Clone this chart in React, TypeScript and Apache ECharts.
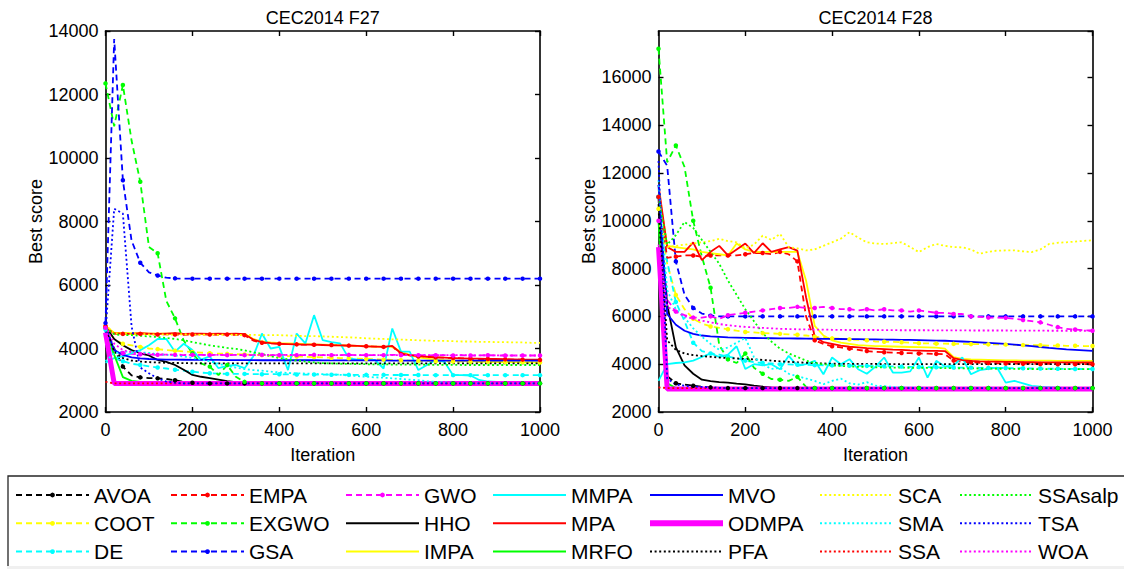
import React, { useEffect, useRef } from "react";
import * as echarts from "echarts";

const FONT = "'Liberation Sans', Arial, Helvetica, sans-serif";

const ITER = [
  0, 20, 40, 60, 80, 100, 120, 140, 160, 180,
  200, 220, 240, 260, 280, 300, 320, 340, 360, 380,
  400, 420, 440, 460, 480, 500, 520, 540, 560, 580,
  600, 620, 640, 660, 680, 700, 720, 740, 760, 780,
  800, 820, 840, 860, 880, 900, 920, 940, 960, 980,
  1000,
];

const X_TICKS = [0, 1000, 200];
const Y27_RANGE = [2000, 14000, 2000];
const Y28_RANGE = [2000, 17940, 2000];

const NAMES = [
  "AVOA", "COOT", "DE", "EMPA", "EXGWO", "GSA", "GWO",
  "HHO", "IMPA", "MMPA", "MPA", "MRFO", "MVO", "ODMPA",
  "PFA", "SCA", "SMA", "SSA", "SSAsalp", "TSA", "WOA",
];

// ---------------- CEC2014 F27 ----------------
const AVOA_F27 = [
  4650, 4000, 3430, 3150, 3090, 3070, 3060, 3040, 3000, 2950,
  2920, 2900, 2900, 2900, 2900, 2900, 2900, 2900, 2900, 2900,
  2900, 2900, 2900, 2900, 2900, 2900, 2900, 2900, 2900, 2900,
  2900, 2900, 2900, 2900, 2900, 2900, 2900, 2900, 2900, 2900,
  2900, 2900, 2900, 2900, 2900, 2900, 2900, 2900, 2900, 2900,
  2900,
];
const COOT_F27 = [
  4700, 4300, 4150, 4100, 4050, 4000, 3980, 3950, 3930, 3910,
  3890, 3870, 3850, 3840, 3830, 3820, 3810, 3800, 3790, 3780,
  3770, 3760, 3750, 3740, 3730, 3720, 3710, 3700, 3690, 3680,
  3670, 3660, 3650, 3640, 3630, 3620, 3610, 3600, 3600, 3590,
  3590, 3590, 3580, 3580, 3580, 3570, 3570, 3570, 3570, 3560,
  3560,
];
const DE_F27 = [
  4600, 3700, 3600, 3520, 3480, 3440, 3400, 3370, 3330, 3300,
  3270, 3240, 3220, 3210, 3200, 3200, 3200, 3195, 3190, 3190,
  3190, 3185, 3180, 3180, 3180, 3180, 3175, 3175, 3170, 3170,
  3170, 3170, 3170, 3165, 3165, 3165, 3165, 3160, 3160, 3160,
  3160, 3160, 3160, 3160, 3160, 3160, 3160, 3160, 3160, 3160,
  3160,
];
const EMPA_F27 = [
  4700, 4470, 4460, 4450, 4460, 4450, 4440, 4450, 4440, 4430,
  4440, 4450, 4440, 4430, 4440, 4430, 4420, 4250, 4180, 4160,
  4150, 4140, 4130, 4120, 4120, 4110, 4110, 4100, 4090, 4080,
  4070, 4060, 4050, 4060, 3830, 3780, 3750, 3730, 3720, 3710,
  3700, 3690, 3680, 3670, 3670, 3660, 3660, 3650, 3650, 3640,
  3640,
];
const EXGWO_F27 = [
  12350, 11000, 12300, 10550, 9250, 7200, 7000, 5500, 4950, 4250,
  3850, 3530, 3430, 3160, 3480, 3110, 2950, 2900, 2900, 2900,
  2900, 2900, 2900, 2900, 2900, 2900, 2900, 2900, 2900, 2900,
  2900, 2900, 2900, 2900, 2900, 2900, 2900, 2900, 2900, 2900,
  2900, 2900, 2900, 2900, 2900, 2900, 2900, 2900, 2900, 2900,
  2900,
];
const GSA_F27 = [
  4800, 13750, 9300, 7400, 6700, 6400, 6300, 6230, 6210, 6200,
  6200, 6200, 6200, 6200, 6200, 6200, 6200, 6200, 6200, 6200,
  6200, 6200, 6200, 6200, 6200, 6200, 6200, 6200, 6200, 6200,
  6200, 6200, 6200, 6200, 6200, 6200, 6200, 6200, 6200, 6200,
  6200, 6200, 6200, 6200, 6200, 6200, 6200, 6200, 6200, 6200,
  6200,
];
const GWO_F27 = [
  4650, 3950, 3860, 3830, 3820, 3810, 3800, 3810, 3800, 3790,
  3800, 3800, 3790, 3800, 3790, 3800, 3790, 3790, 3800, 3790,
  3790, 3800, 3790, 3790, 3800, 3790, 3790, 3790, 3800, 3790,
  3790, 3790, 3790, 3800, 3790, 3790, 3790, 3780, 3790, 3790,
  3780, 3790, 3780, 3780, 3790, 3780, 3780, 3780, 3780, 3780,
  3780,
];
const HHO_F27 = [
  4700, 4300, 4100, 3950, 3850, 3780, 3640, 3580, 3480, 3330,
  3170, 3110, 3070, 3020, 2970, 2940, 2920, 2900, 2900, 2900,
  2900, 2900, 2900, 2900, 2900, 2900, 2900, 2900, 2900, 2900,
  2900, 2900, 2900, 2900, 2900, 2900, 2900, 2900, 2900, 2900,
  2900, 2900, 2900, 2900, 2900, 2900, 2900, 2900, 2900, 2900,
  2900,
];
const IMPA_F27 = [
  4700, 4500, 4490, 4480, 4480, 4470, 4470, 4470, 4470, 4460,
  4460, 4460, 4460, 4460, 4460, 4460, 4460, 4300, 4220, 4190,
  4170, 4160, 4150, 4140, 4130, 4120, 4110, 4100, 4090, 4080,
  4070, 4060, 4060, 4050, 3900, 3800, 3720, 3680, 3650, 3630,
  3620, 3610, 3600, 3590, 3580, 3580, 3570, 3570, 3560, 3560,
  3560,
];
const MMPA_F27 = [
  3550, 3700, 3750, 3850, 3950, 4100, 4300, 4300, 3900, 4150,
  3950, 3650, 3750, 3380, 3450, 3480, 3380, 3750, 4470, 4000,
  4050, 3320, 4470, 4160, 5050, 4260, 4200, 4160, 3690, 3650,
  3640, 3640, 3370, 4630, 3900, 3900, 3320, 3480, 3640, 3580,
  3160, 3160, 3150, 3010, 2960, 2950, 2940, 2930, 2930, 2930,
  2930,
];
const MPA_F27 = [
  4650, 4480, 4470, 4460, 4480, 4470, 4460, 4470, 4480, 4460,
  4470, 4470, 4460, 4470, 4460, 4470, 4450, 4280, 4200, 4170,
  4150, 4140, 4130, 4120, 4120, 4110, 4100, 4100, 4090, 4080,
  4070, 4060, 4050, 4080, 3850, 3790, 3760, 3740, 3720, 3710,
  3700, 3690, 3680, 3680, 3670, 3670, 3660, 3660, 3650, 3650,
  3650,
];
const MRFO_F27 = [
  4600, 3800, 3100, 2980, 2950, 2920, 2900, 2900, 2900, 2900,
  2900, 2900, 2900, 2900, 2900, 2900, 2900, 2900, 2900, 2900,
  2900, 2900, 2900, 2900, 2900, 2900, 2900, 2900, 2900, 2900,
  2900, 2900, 2900, 2900, 2900, 2900, 2900, 2900, 2900, 2900,
  2900, 2900, 2900, 2900, 2900, 2900, 2900, 2900, 2900, 2900,
  2900,
];
const MVO_F27 = [
  4700, 3950, 3800, 3720, 3690, 3670, 3660, 3650, 3650, 3645,
  3640, 3640, 3640, 3640, 3635, 3635, 3635, 3635, 3630, 3630,
  3630, 3630, 3630, 3630, 3630, 3625, 3625, 3625, 3625, 3625,
  3625, 3625, 3625, 3620, 3620, 3620, 3620, 3620, 3620, 3620,
  3620, 3620, 3620, 3620, 3620, 3620, 3620, 3620, 3620, 3620,
  3620,
];
const ODMPA_F27 = [
  4500, 2900, 2900, 2900, 2900, 2900, 2900, 2900, 2900, 2900,
  2900, 2900, 2900, 2900, 2900, 2900, 2900, 2900, 2900, 2900,
  2900, 2900, 2900, 2900, 2900, 2900, 2900, 2900, 2900, 2900,
  2900, 2900, 2900, 2900, 2900, 2900, 2900, 2900, 2900, 2900,
  2900, 2900, 2900, 2900, 2900, 2900, 2900, 2900, 2900, 2900,
  2900,
];
const PFA_F27 = [
  4700, 3900, 3700, 3620, 3590, 3570, 3560, 3550, 3545, 3540,
  3535, 3530, 3530, 3530, 3530, 3530, 3530, 3530, 3530, 3530,
  3530, 3530, 3530, 3530, 3530, 3530, 3530, 3530, 3530, 3530,
  3530, 3530, 3530, 3530, 3530, 3530, 3530, 3530, 3530, 3530,
  3530, 3530, 3530, 3530, 3530, 3530, 3530, 3530, 3530, 3530,
  3530,
];
const SCA_F27 = [
  4750, 4480, 4460, 4450, 4460, 4440, 4450, 4440, 4440, 4450,
  4440, 4430, 4440, 4430, 4440, 4430, 4420, 4430, 4420, 4420,
  4420, 4410, 4400, 4390, 4390, 4380, 4370, 4360, 4350, 4340,
  4320, 4310, 4300, 4290, 4280, 4270, 4260, 4250, 4240, 4240,
  4230, 4220, 4220, 4210, 4210, 4200, 4200, 4190, 4190, 4180,
  4180,
];
const SMA_F27 = [
  3600, 3850, 3900, 3900, 3880, 3860, 3820, 3800, 3780, 3750,
  3700, 3650, 3600, 3520, 3450, 3400, 3350, 3320, 3300, 3270,
  3250, 3230, 3220, 3210, 3200, 3190, 3180, 3170, 3150, 3130,
  3110, 3090, 3080, 3060, 3040, 3020, 3000, 2970, 2950, 2930,
  2920, 2910, 2910, 2900, 2900, 2900, 2900, 2900, 2900, 2900,
  2900,
];
const SSA_F27 = [
  2950, 2900, 2900, 2900, 2900, 2900, 2900, 2900, 2900, 2900,
  2900, 2900, 2900, 2900, 2900, 2900, 2900, 2900, 2900, 2900,
  2900, 2900, 2900, 2900, 2900, 2900, 2900, 2900, 2900, 2900,
  2900, 2900, 2900, 2900, 2900, 2900, 2900, 2900, 2900, 2900,
  2900, 2900, 2900, 2900, 2900, 2900, 2900, 2900, 2900, 2900,
  2900,
];
const SSASALP_F27 = [
  4650, 4450, 4420, 4420, 4400, 4380, 4360, 4330, 4300, 4260,
  4200, 4150, 4100, 4060, 4020, 3990, 3940, 3880, 3830, 3760,
  3700, 3660, 3620, 3590, 3560, 3540, 3530, 3520, 3515, 3510,
  3505, 3500, 3500, 3495, 3495, 3490, 3490, 3490, 3485, 3485,
  3485, 3480, 3480, 3480, 3480, 3480, 3480, 3480, 3480, 3480,
  3480,
];
const TSA_F27 = [
  4500, 8400, 8250, 4700, 3400, 3220, 3060, 2960, 2920, 2900,
  2900, 2900, 2900, 2900, 2900, 2900, 2900, 2900, 2900, 2900,
  2900, 2900, 2900, 2900, 2900, 2900, 2900, 2900, 2900, 2900,
  2900, 2900, 2900, 2900, 2900, 2900, 2900, 2900, 2900, 2900,
  2900, 2900, 2900, 2900, 2900, 2900, 2900, 2900, 2900, 2900,
  2900,
];
const WOA_F27 = [
  4700, 4150, 3950, 3880, 3850, 3830, 3820, 3810, 3810, 3800,
  3800, 3800, 3800, 3800, 3800, 3800, 3800, 3800, 3800, 3800,
  3800, 3795, 3795, 3795, 3795, 3795, 3795, 3790, 3790, 3790,
  3790, 3790, 3790, 3790, 3790, 3790, 3790, 3790, 3790, 3790,
  3790, 3790, 3785, 3785, 3785, 3785, 3780, 3780, 3780, 3780,
  3780,
];

// ---------------- CEC2014 F28 ----------------
const AVOA_F28 = [
  11000, 3500, 3200, 3150, 3100, 3060, 3030, 3010, 3000, 3000,
  3000, 3000, 3000, 3000, 3000, 3000, 3000, 3000, 3000, 3000,
  3000, 3000, 3000, 3000, 3000, 3000, 3000, 3000, 3000, 3000,
  3000, 3000, 3000, 3000, 3000, 3000, 3000, 3000, 3000, 3000,
  3000, 3000, 3000, 3000, 3000, 3000, 3000, 3000, 3000, 3000,
  3000,
];
const COOT_F28 = [
  10500, 8200, 6900, 6300, 5900, 5700, 5580, 5520, 5460, 5400,
  5350, 5330, 5300, 5290, 5270, 5250, 5230, 5200, 5150, 5120,
  5080, 5060, 5040, 5020, 5000, 4950, 4940, 4930, 4920, 4900,
  4880, 4870, 4860, 4860, 4850, 4850, 4840, 4840, 4830, 4830,
  4820, 4810, 4800, 4800, 4790, 4780, 4780, 4770, 4770, 4760,
  4760,
];
const DE_F28 = [
  11000, 8300, 6600, 5800, 4900, 4550, 4450, 4400, 4320, 4250,
  4150, 4080, 4050, 4030, 4000, 3990, 3980, 3970, 3960, 3955,
  3950, 3945, 3940, 3935, 3930, 3920, 3915, 3910, 3900, 3890,
  3880, 3875, 3870, 3865, 3860, 3860, 3855, 3850, 3845, 3840,
  3840, 3830, 3830, 3820, 3820, 3810, 3810, 3805, 3800, 3800,
  3800,
];
const EMPA_F28 = [
  11000, 8450, 8500, 8550, 8550, 8500, 8550, 8550, 8550, 8550,
  8600, 8650, 8650, 8600, 8700, 8600, 8300, 6000, 5000, 4850,
  4750, 4700, 4650, 4600, 4550, 4520, 4500, 4480, 4470, 4460,
  4450, 4440, 4430, 4420, 4150, 4100, 4080, 4060, 4050, 4040,
  4030, 4030, 4020, 4020, 4010, 4010, 4000, 4000, 4000, 4000,
  4000,
];
const EXGWO_F28 = [
  17200, 12450, 13150, 12250, 10000, 8500, 7200, 4800, 4200, 4050,
  4450, 3850, 3600, 3380, 3350, 3300, 3470, 3050, 3000, 3000,
  3000, 3000, 3000, 3000, 3000, 3000, 3000, 3000, 3000, 3000,
  3000, 3000, 3000, 3000, 3000, 3000, 3000, 3000, 3000, 3000,
  3000, 3000, 3000, 3000, 3000, 3000, 3000, 3000, 3000, 3000,
  3000,
];
const GSA_F28 = [
  12900, 12300, 8300, 6900, 6350, 6120, 6030, 6000, 6000, 6000,
  6000, 6000, 6000, 6000, 6000, 6000, 6000, 6000, 6000, 6000,
  6000, 6000, 6000, 6000, 6000, 6000, 6000, 6000, 6000, 6000,
  6000, 6000, 6000, 6000, 6000, 6000, 6000, 6000, 6000, 6000,
  6000, 6000, 6000, 6000, 6000, 6000, 6000, 6000, 6000, 6000,
  6000,
];
const GWO_F28 = [
  10000, 6700, 6200, 6050, 5950, 5950, 6000, 5900, 6050, 6100,
  6150, 6200, 6250, 6300, 6350, 6350, 6400, 6350, 6350, 6400,
  6350, 6300, 6300, 6250, 6300, 6250, 6300, 6250, 6250, 6200,
  6250, 6200, 6150, 6150, 6100, 6100, 6000, 5980, 5950, 5950,
  5940, 5900, 5850, 5800, 5750, 5650, 5550, 5480, 5450, 5420,
  5400,
];
const HHO_F28 = [
  10700, 6500, 4700, 3950, 3600, 3350, 3290, 3250, 3230, 3190,
  3160, 3100, 3060, 3030, 3010, 3000, 3000, 3000, 3000, 3000,
  3000, 3000, 3000, 3000, 3000, 3000, 3000, 3000, 3000, 3000,
  3000, 3000, 3000, 3000, 3000, 3000, 3000, 3000, 3000, 3000,
  3000, 3000, 3000, 3000, 3000, 3000, 3000, 3000, 3000, 3000,
  3000,
];
const IMPA_F28 = [
  11300, 8950, 8900, 8850, 8800, 8700, 8650, 8600, 8550, 9050,
  8800, 8700, 8700, 8700, 8700, 8700, 8700, 7500, 5600, 5200,
  5000, 4900, 4850, 4800, 4780, 4760, 4750, 4740, 4730, 4720,
  4710, 4700, 4690, 4650, 4300, 4220, 4200, 4190, 4180, 4170,
  4160, 4160, 4150, 4150, 4150, 4150, 4140, 4140, 4140, 4140,
  4140,
];
const MMPA_F28 = [
  3300, 4000, 4050, 4080, 4150, 4300, 4450, 4300, 4400, 4750,
  3800, 4000, 3950, 4000, 3790, 4350, 3930, 4000, 4140, 3580,
  4280, 4000, 4210, 3790, 3600, 3900, 4280, 3650, 3650, 3700,
  4280, 3440, 4140, 3900, 3950, 4280, 3580, 3750, 3800, 3860,
  3230, 3300, 3200, 3090, 3060, 3040, 3020, 3000, 3000, 3000,
  3000,
];
const MPA_F28 = [
  11500, 8900, 8700, 8700, 9100, 8350, 8700, 8950, 8550, 8800,
  9050, 8650, 9060, 8700, 8800, 8900, 8750, 6800, 5150, 4920,
  4850, 4780, 4730, 4700, 4670, 4650, 4630, 4610, 4600, 4580,
  4570, 4560, 4560, 4550, 4250, 4170, 4140, 4120, 4110, 4105,
  4100, 4095, 4090, 4085, 4080, 4080, 4075, 4075, 4070, 4070,
  4070,
];
const MRFO_F28 = [
  10000, 3200, 3000, 3000, 3000, 3000, 3000, 3000, 3000, 3000,
  3000, 3000, 3000, 3000, 3000, 3000, 3000, 3000, 3000, 3000,
  3000, 3000, 3000, 3000, 3000, 3000, 3000, 3000, 3000, 3000,
  3000, 3000, 3000, 3000, 3000, 3000, 3000, 3000, 3000, 3000,
  3000, 3000, 3000, 3000, 3000, 3000, 3000, 3000, 3000, 3000,
  3000,
];
const MVO_F28 = [
  11500, 6100, 5650, 5400, 5270, 5200, 5160, 5140, 5120, 5110,
  5100, 5095, 5090, 5085, 5080, 5080, 5075, 5070, 5065, 5060,
  5060, 5055, 5050, 5045, 5040, 5040, 5030, 5025, 5020, 5015,
  5010, 5000, 4990, 4980, 4965, 4950, 4930, 4910, 4890, 4870,
  4850, 4820, 4790, 4760, 4720, 4680, 4650, 4620, 4600, 4580,
  4560,
];
const ODMPA_F28 = [
  8900, 2960, 2960, 2960, 2960, 2960, 2960, 2960, 2960, 2960,
  2960, 2960, 2960, 2960, 2960, 2960, 2960, 2960, 2960, 2960,
  2960, 2960, 2960, 2960, 2960, 2960, 2960, 2960, 2960, 2960,
  2960, 2960, 2960, 2960, 2960, 2960, 2960, 2960, 2960, 2960,
  2960, 2960, 2960, 2960, 2960, 2960, 2960, 2960, 2960, 2960,
  2960,
];
const PFA_F28 = [
  10500, 5000, 4600, 4450, 4380, 4340, 4310, 4280, 4260, 4240,
  4220, 4200, 4180, 4150, 4120, 4100, 4080, 4060, 4040, 4030,
  4020, 4015, 4010, 4010, 4010, 4010, 4005, 4005, 4005, 4005,
  4000, 4000, 4000, 4000, 4000, 4000, 4000, 4000, 4000, 4000,
  4000, 4000, 4000, 4000, 4000, 4000, 4000, 4000, 4000, 4000,
  4000,
];
const SCA_F28 = [
  10000, 8900, 8950, 9000, 9050, 9100, 9150, 9250, 9150, 9100,
  8850, 9000, 9380, 9200, 9450, 8900, 8850, 8760, 8800, 8950,
  9100, 9250, 9520, 9300, 9100, 9050, 9030, 9070, 9100, 8900,
  8690, 8900, 9030, 8950, 8900, 8890, 8800, 8620, 8700, 8750,
  8760, 8760, 8720, 8690, 8800, 9030, 9080, 9100, 9130, 9160,
  9180,
];
const SMA_F28 = [
  11700, 7100, 6300, 5950, 5500, 5150, 4850, 4600, 4700, 4900,
  5100, 4300, 4000, 3800, 3850, 3600, 3500, 3400, 3300, 3160,
  3300, 3400, 3200, 3150, 3250, 3100, 3080, 3050, 3030, 3020,
  3010, 3000, 3000, 3000, 3000, 3000, 3000, 3000, 3000, 3000,
  3000, 3000, 3000, 3000, 3000, 3000, 3000, 3000, 3000, 3000,
  3000,
];
const SSA_F28 = [
  3030, 3000, 3000, 3000, 3000, 3000, 3000, 3000, 3000, 3000,
  3000, 3000, 3000, 3000, 3000, 3000, 3000, 3000, 3000, 3000,
  3000, 3000, 3000, 3000, 3000, 3000, 3000, 3000, 3000, 3000,
  3000, 3000, 3000, 3000, 3000, 3000, 3000, 3000, 3000, 3000,
  3000, 3000, 3000, 3000, 3000, 3000, 3000, 3000, 3000, 3000,
  3000,
];
const SSASALP_F28 = [
  11000, 9000, 9400, 9950, 9700, 9200, 8700, 8200, 7500, 6900,
  6300, 5800, 5300, 4950, 4650, 4450, 4300, 4150, 4050, 4000,
  3950, 3930, 3900, 3890, 3880, 3870, 3865, 3860, 3855, 3850,
  3850, 3845, 3840, 3835, 3830, 3830, 3825, 3820, 3815, 3810,
  3810, 3805, 3800, 3800, 3795, 3795, 3790, 3790, 3790, 3790,
  3790,
];
const TSA_F28 = [
  12500, 3400, 3150, 3100, 3070, 3050, 3030, 3010, 3000, 3000,
  3000, 3000, 3000, 3000, 3000, 3000, 3000, 3000, 3000, 3000,
  3000, 3000, 3000, 3000, 3000, 3000, 3000, 3000, 3000, 3000,
  3000, 3000, 3000, 3000, 3000, 3000, 3000, 3000, 3000, 3000,
  3000, 3000, 3000, 3000, 3000, 3000, 3000, 3000, 3000, 3000,
  3000,
];
const WOA_F28 = [
  9000, 6400, 6200, 6000, 5900, 5820, 5750, 5680, 5630, 5590,
  5560, 5540, 5520, 5500, 5480, 5470, 5460, 5455, 5450, 5445,
  5440, 5435, 5430, 5430, 5430, 5430, 5425, 5425, 5420, 5420,
  5420, 5420, 5415, 5415, 5415, 5415, 5410, 5410, 5410, 5410,
  5410, 5405, 5405, 5405, 5405, 5400, 5400, 5400, 5400, 5400,
  5400,
];

const F27 = [
  AVOA_F27, COOT_F27, DE_F27, EMPA_F27, EXGWO_F27, GSA_F27, GWO_F27,
  HHO_F27, IMPA_F27, MMPA_F27, MPA_F27, MRFO_F27, MVO_F27, ODMPA_F27,
  PFA_F27, SCA_F27, SMA_F27, SSA_F27, SSASALP_F27, TSA_F27, WOA_F27,
];
const F28 = [
  AVOA_F28, COOT_F28, DE_F28, EMPA_F28, EXGWO_F28, GSA_F28, GWO_F28,
  HHO_F28, IMPA_F28, MMPA_F28, MPA_F28, MRFO_F28, MVO_F28, ODMPA_F28,
  PFA_F28, SCA_F28, SMA_F28, SSA_F28, SSASALP_F28, TSA_F28, WOA_F28,
];

// styles (not data)
const PALETTE = ["#000000", "#ffff00", "#00ffff", "#ff0000", "#00ff00", "#0000ff", "#ff00ff"];
const KIND = ["dash", "solid", "dot"];
const LEGEND_COL_X = [15, 170, 345, 492, 647, 819, 959];

function styleOf(k: number) {
  const kind = KIND[Math.floor(k / 7)];
  const color = PALETTE[k % 7];
  const width = NAMES[k] === "ODMPA" ? 5 : 1.8;
  const type: any = kind === "dash" ? [6, 4] : kind === "dot" ? [2, 2.6] : "solid";
  return { kind, color, width, type };
}

function buildSeries(data: number[][], idx: number) {
  return NAMES.map((name, k) => {
    const s = styleOf(k);
    return {
      name,
      type: "line",
      xAxisIndex: idx,
      yAxisIndex: idx,
      data: ITER.map((it, i) => [it, data[k][i]]),
      symbol: s.kind === "dash" ? "circle" : "none",
      showSymbol: s.kind === "dash",
      symbolSize: (_v: any, p: any) => (p.dataIndex % 2 === 0 ? 4.5 : 0),
      lineStyle: { color: s.color, width: s.width, type: s.type },
      itemStyle: { color: s.color },
      silent: true,
      emphasis: { disabled: true },
      animation: false,
    };
  });
}

const plain = (v: number) => String(v);

function xAxisOf(grid: number, pos: string, main: boolean) {
  return {
    type: "value",
    gridIndex: grid,
    position: pos,
    min: X_TICKS[0],
    max: X_TICKS[1],
    interval: X_TICKS[2],
    axisLine: { show: true, onZero: false, lineStyle: { color: "#000", width: 1.6 } },
    axisTick: { show: true, inside: true, length: 5, lineStyle: { color: "#000", width: 1.4 } },
    axisLabel: { show: main, color: "#000", fontSize: 18, fontFamily: FONT, margin: 9, formatter: plain },
    splitLine: { show: false },
    name: main ? "Iteration" : "",
    nameLocation: "middle",
    nameGap: 34,
    nameTextStyle: { color: "#000", fontSize: 18, fontFamily: FONT },
  };
}

function yAxisOf(grid: number, pos: string, main: boolean, range: number[]) {
  return {
    type: "value",
    gridIndex: grid,
    position: pos,
    min: range[0],
    max: range[1],
    interval: range[2],
    axisLine: { show: true, onZero: false, lineStyle: { color: "#000", width: 1.6 } },
    axisTick: { show: true, inside: true, length: 5, lineStyle: { color: "#000", width: 1.4 } },
    axisLabel: {
      show: main,
      color: "#000",
      fontSize: 18,
      fontFamily: FONT,
      margin: 7,
      formatter: plain,
      showMaxLabel: range[1] % range[2] === 0,
    },
    splitLine: { show: false },
    name: main ? "Best score" : "",
    nameLocation: "middle",
    nameGap: 55,
    nameTextStyle: { color: "#000", fontSize: 18, fontFamily: FONT },
  };
}

export default function App() {
  const ref = useRef<HTMLDivElement>(null);
  useEffect(() => {
    if (!ref.current) return;
    const chart = echarts.init(ref.current, undefined, { renderer: "svg" });
    const legends = LEGEND_COL_X.map((x, c) => ({
      orient: "vertical",
      left: x,
      top: 484.5,
      padding: 0,
      itemWidth: 73,
      itemHeight: 6,
      itemGap: 7.3,
      selectedMode: false,
      lineStyle: { width: 2 },
      textStyle: { color: "#000", fontSize: 21, fontFamily: FONT, lineHeight: 21 },
      data: NAMES.slice(c * 3, c * 3 + 3).map((n) => {
        const k = NAMES.indexOf(n);
        const s = styleOf(k);
        const item: any = { name: n };
        if (s.kind !== "dash") item.itemStyle = { opacity: 0 };
        if (n === "ODMPA") item.lineStyle = { width: 6 };
        return item;
      }),
    }));
    chart.setOption({
      animation: false,
      backgroundColor: "#ffffff",
      grid: [
        { left: 105.5, top: 31, width: 434.5, height: 381 },
        { left: 658.5, top: 31, width: 434, height: 381 },
      ],
      xAxis: [xAxisOf(0, "bottom", true), xAxisOf(1, "bottom", true), xAxisOf(0, "top", false), xAxisOf(1, "top", false)],
      yAxis: [
        yAxisOf(0, "left", true, Y27_RANGE),
        yAxisOf(1, "left", true, Y28_RANGE),
        yAxisOf(0, "right", false, Y27_RANGE),
        yAxisOf(1, "right", false, Y28_RANGE),
      ],
      legend: legends,
      graphic: [
        {
          type: "text",
          x: 322.75,
          y: 18,
          style: { text: "CEC2014 F27", fontSize: 18, fontFamily: FONT, fill: "#000", align: "center", verticalAlign: "middle" },
        },
        {
          type: "text",
          x: 875.5,
          y: 18,
          style: { text: "CEC2014 F28", fontSize: 18, fontFamily: FONT, fill: "#000", align: "center", verticalAlign: "middle" },
        },
        {
          type: "rect",
          shape: { x: 8, y: 476, width: 1130, height: 100 },
          style: { fill: "none", stroke: "#262626", lineWidth: 1.3 },
        },
        {
          type: "rect",
          shape: { x: 7, y: 566, width: 1120, height: 4 },
          style: { fill: "#f0f0f0" },
        },
      ],
      series: [...buildSeries(F27, 0), ...buildSeries(F28, 1)],
    });
    return () => chart.dispose();
  }, []);
  return (
    <div
      ref={ref}
      style={{ position: "fixed", left: 0, top: 0, width: 1124, height: 569, background: "#fff" }}
    />
  );
}
